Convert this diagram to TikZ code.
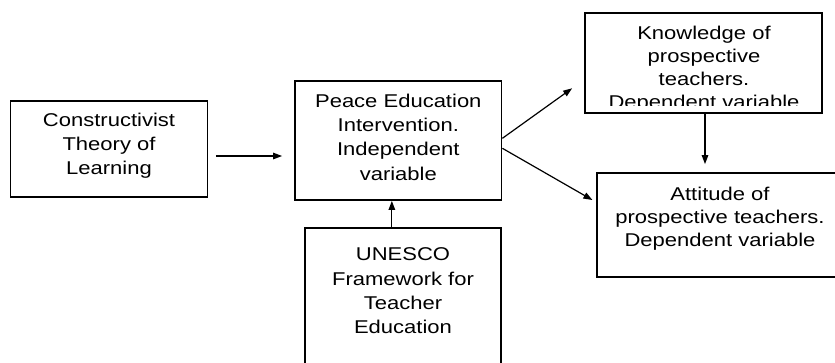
\documentclass[tikz,border=0pt]{standalone}
\usepackage{fontspec}
\setmainfont{Liberation Sans}[FakeStretch=1.19]
\usetikzlibrary{arrows.meta}
\tikzset{
  box/.style={draw=black, line width=1.8pt, rectangle, inner sep=0pt, fill=none},
  txt/.style={align=center, inner sep=0pt, anchor=north, text=black},
  arr/.style={draw=black, line width=1.2pt, -{Triangle[length=9pt,width=6.5pt]}}
}
\newcommand{\fs}[1]{\fontsize{18.5}{#1}\selectfont}
\newcommand{\st}{\rule{0pt}{15pt}}
\begin{document}
\begin{tikzpicture}[x=1pt,y=-1pt]
\useasboundingbox (0,0) rectangle (835,362);
\clip (0,0) rectangle (835,362);
\fill[white] (0,0) rectangle (835,362);
% boxes
\node[box, minimum width=197pt, minimum height=96pt] (b1) at (109,149) {};
\node[box, minimum width=206.5pt, minimum height=119pt] (peace) at (398.25,140.5) {};
\node[box, minimum width=237pt, minimum height=100pt] (know) at (703.5,63.3) {};
\node[box, minimum width=245.7pt, minimum height=104pt] (att) at (720.15,224.7) {};
\node[box, minimum width=195.7pt, minimum height=151.7pt] (unesco) at (402.85,304.15) {};
% texts
\node[txt, font=\fs{23.6}] (t1) at (109,111.7) {\st Constructivist\\Theory of\\Learning};
\node[txt, font=\fs{24.2}] (t2) at (398.3,92.3) {\st Peace Education\\Intervention.\\Independent\\variable};
\begin{scope}
\clip (586,14) rectangle (821,105.5);
\node[txt, font=\fs{23}] (t3) at (704,24) {\st Knowledge of\\prospective\\teachers.\\Dependent variable};
\end{scope}
\node[txt, font=\fs{22.7}] (t4) at (720,185.7) {\st Attitude of\\prospective teachers.\\Dependent variable};
\node[txt, font=\fs{24.2}] (t5) at (403,245.7) {\st UNESCO\\Framework for\\Teacher\\Education};
% arrows
\draw[arr, shorten <=7.5pt, shorten >=12pt] ([yshift=-7pt]b1.east) -- ([yshift=-7pt]b1.east -| peace.west);
\draw[arr] ([xshift=-11pt]unesco.north) -- ([xshift=-11pt]unesco.north |- peace.south);
\draw[arr] ([yshift=2.2pt]peace.east) -- ([xshift=-12pt,yshift=-25pt]know.west);
\draw[arr] ([yshift=-7.8pt]peace.east) -- ([xshift=-4pt,yshift=24.7pt]att.west);
\draw[arr, shorten >=7.7pt] ([xshift=1.5pt]know.south) -- ([xshift=1.5pt]know.south |- att.north);
\end{tikzpicture}
\end{document}
